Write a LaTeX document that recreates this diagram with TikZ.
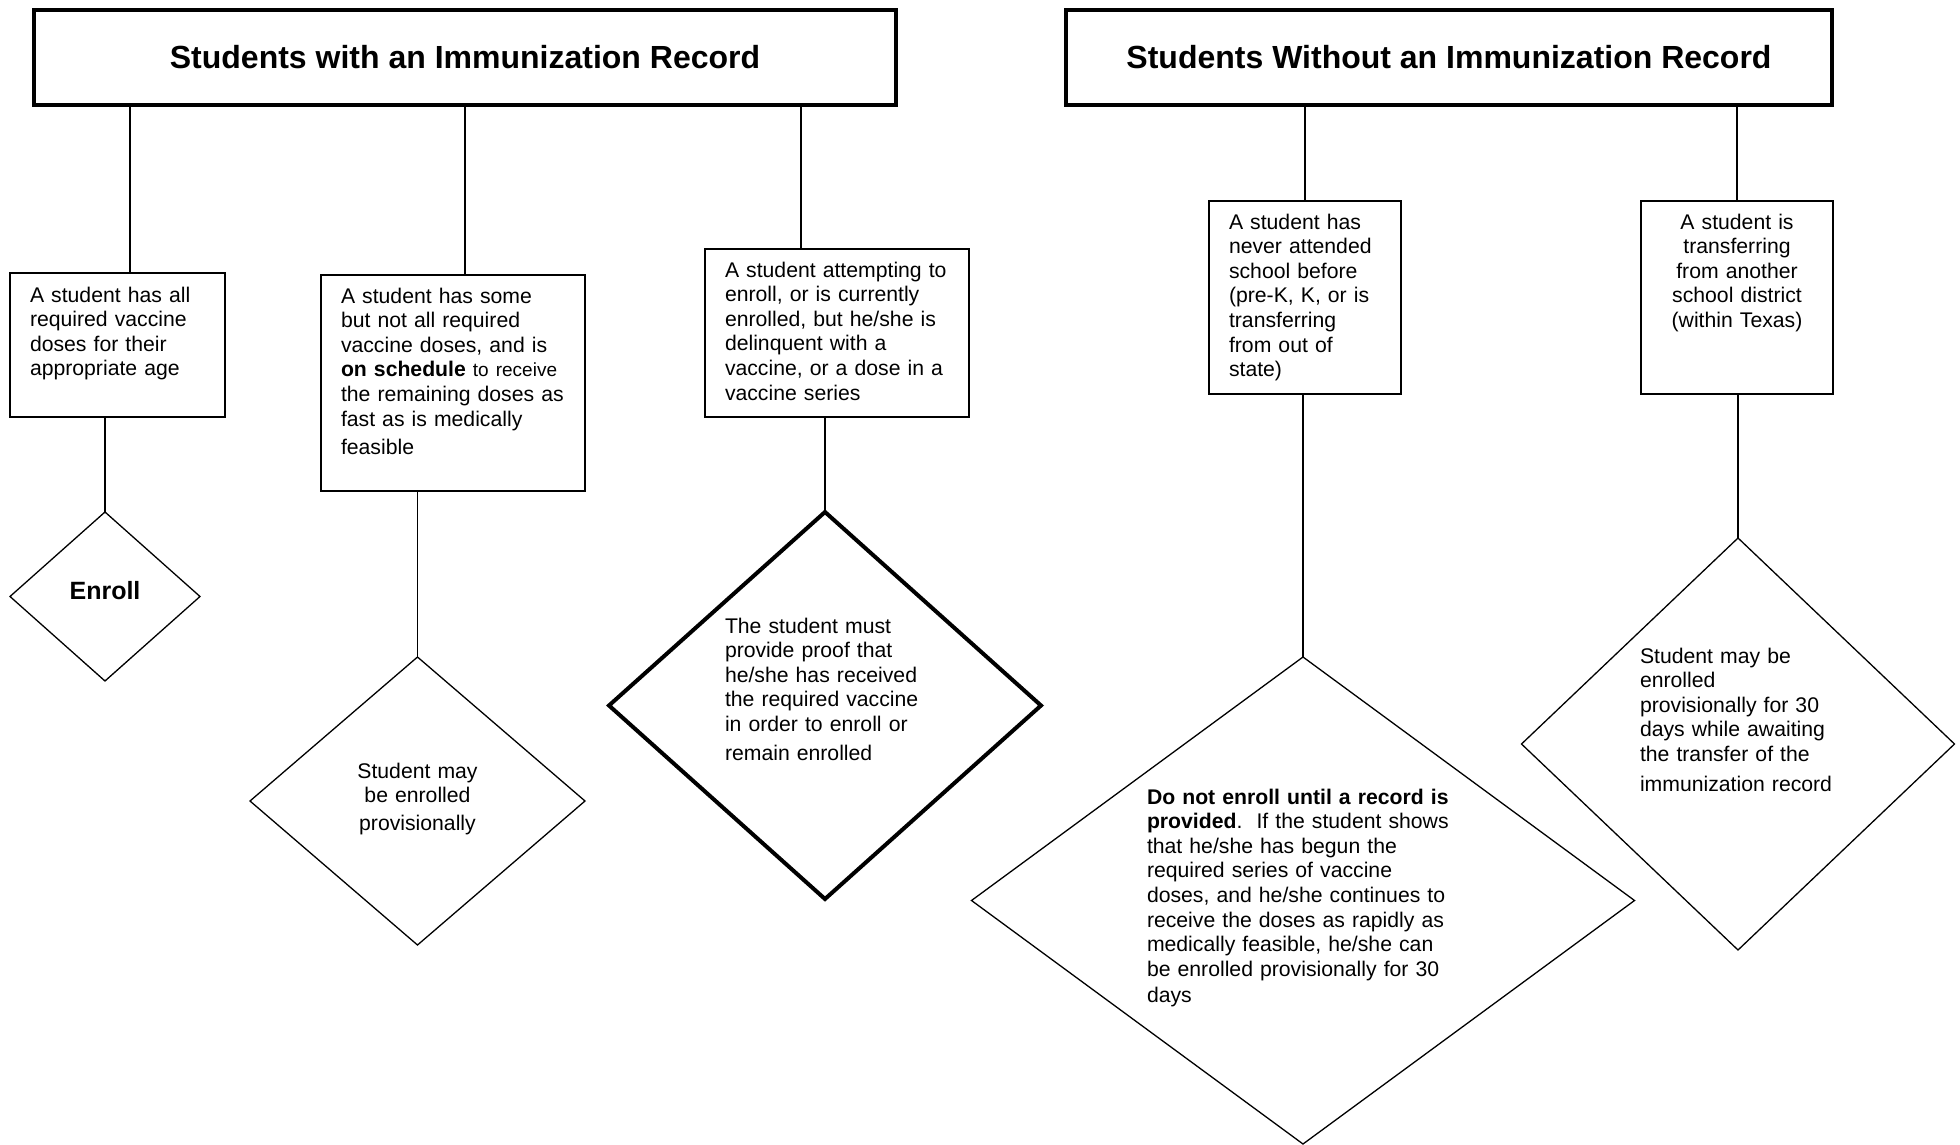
\documentclass[tikz,border=0pt]{standalone}
\usepackage{fontspec}
\setmainfont{Liberation Sans}
\usetikzlibrary{shapes.geometric}

\begin{document}
\begin{tikzpicture}[x=1pt, y=-1pt, line width=1.3pt,
                    header/.style={rectangle,draw,line width=4pt,inner sep=0pt,outer sep=0pt,
                      font=\fontsize{32}{38}\selectfont\bfseries},
                    case/.style={rectangle,draw,anchor=north west,inner xsep=20pt,inner ysep=0pt,
                      outer sep=0pt,align=left,font=\fontsize{21.2}{24.6}\selectfont},
                    outcome/.style={diamond,draw,inner sep=0pt,outer sep=0pt,text height=16pt,
                      font=\fontsize{21.2}{24.6}\selectfont}]

  \useasboundingbox (0,0) rectangle (1960,1145);

  % headers
  \node[header,minimum width=862pt,minimum height=95pt] (with) at (465,57.5) {Students with an Immunization Record};
  \node[header,minimum width=766pt,minimum height=95pt] (without) at (1449,57.5) {Students Without an Immunization Record};

  % cases
  \node[case,text width=175pt,text height=29pt,text depth=115pt] (all) at (10,273)
    {A student has all\\required vaccine\\doses for their\\appropriate age};
  \node[case,text width=224pt,text height=28pt,text depth=188pt] (some) at (321,275)
    {A student has some\\but not all required\\vaccine doses, and is\\\textbf{on schedule} {\fontsize{19}{24.6}\selectfont to receive}\\the remaining doses as\\fast as is medically\\[4pt]feasible};
  \node[case,text width=224pt,text height=28pt,text depth=140pt] (late) at (705,249)
    {A student attempting to\\enroll, or is currently\\enrolled, but he/she is\\delinquent with a\\vaccine, or a dose in a\\vaccine series};
  \node[case,text width=152pt,text height=28pt,text depth=165pt] (new) at (1209,201)
    {A student has\\never attended\\school before\\(pre-K, K, or is\\transferring\\from out of\\state)};
  \node[case,align=center,text width=152pt,text height=28pt,text depth=165pt] (moving) at (1641,201)
    {A student is\\transferring\\from another\\school district\\(within Texas)};

  % outcomes
  \node[outcome,minimum width=190pt,minimum height=169pt,text depth=11pt,
        font=\fontsize{25}{30}\selectfont\bfseries] (enroll) at (105,596.5) {Enroll};
  \node[outcome,align=center,text width=130pt,minimum width=335pt,minimum height=288pt,
        text depth=62pt] (prov) at (417.5,801) {Student may\\be enrolled\\[3pt]provisionally};
  \node[outcome,line width=4pt,align=left,text width=200pt,aspect=1.12,minimum width=432pt,
        minimum height=387pt,text depth=161pt] (proof) at (825,705.5)
    {The student must\\provide proof that\\he/she has received\\the required vaccine\\in order to enroll or\\[4pt]remain enrolled};
  \node[outcome,align=left,text width=312pt,aspect=1.36,minimum width=663pt,minimum height=487pt,
        text depth=209pt] (norec) at (1303,900.5)
    {\textbf{Do not enroll until a record is}\\\textbf{provided}.\ \ If the student shows\\that he/she has begun the\\required series of vaccine\\doses, and he/she continues to\\receive the doses as rapidly as\\medically feasible, he/she can\\be enrolled provisionally for 30\\[2pt]days};
  \node[outcome,align=left,text width=196pt,minimum width=433pt,minimum height=412pt,
        text depth=178pt] (await) at (1738,744)
    {Student may be\\enrolled\\provisionally for 30\\days while awaiting\\the transfer of the\\[5pt]immunization record};

  % connectors
  \coordinate (c1) at ([xshift=12.5pt]all.north);
  \coordinate (c2) at ([xshift=12pt]some.north);
  \coordinate (c3) at ([xshift=-36pt]late.north);
  \draw (c1) -- (c1 |- with.south);
  \draw (c2) -- (c2 |- with.south);
  \draw (c3) -- (c3 |- with.south);
  \draw (new.north) -- (new.north |- without.south);
  \draw (moving.north) -- (moving.north |- without.south);

  \draw (all.south -| enroll.north) -- (enroll.north);
  \draw (some.south -| prov.north) -- (prov.north);
  \draw (late.south -| proof.north) -- (proof.north);
  \draw (new.south -| norec.north) -- (norec.north);
  \draw (moving.south -| await.north) -- (await.north);

\end{tikzpicture}
\end{document}
